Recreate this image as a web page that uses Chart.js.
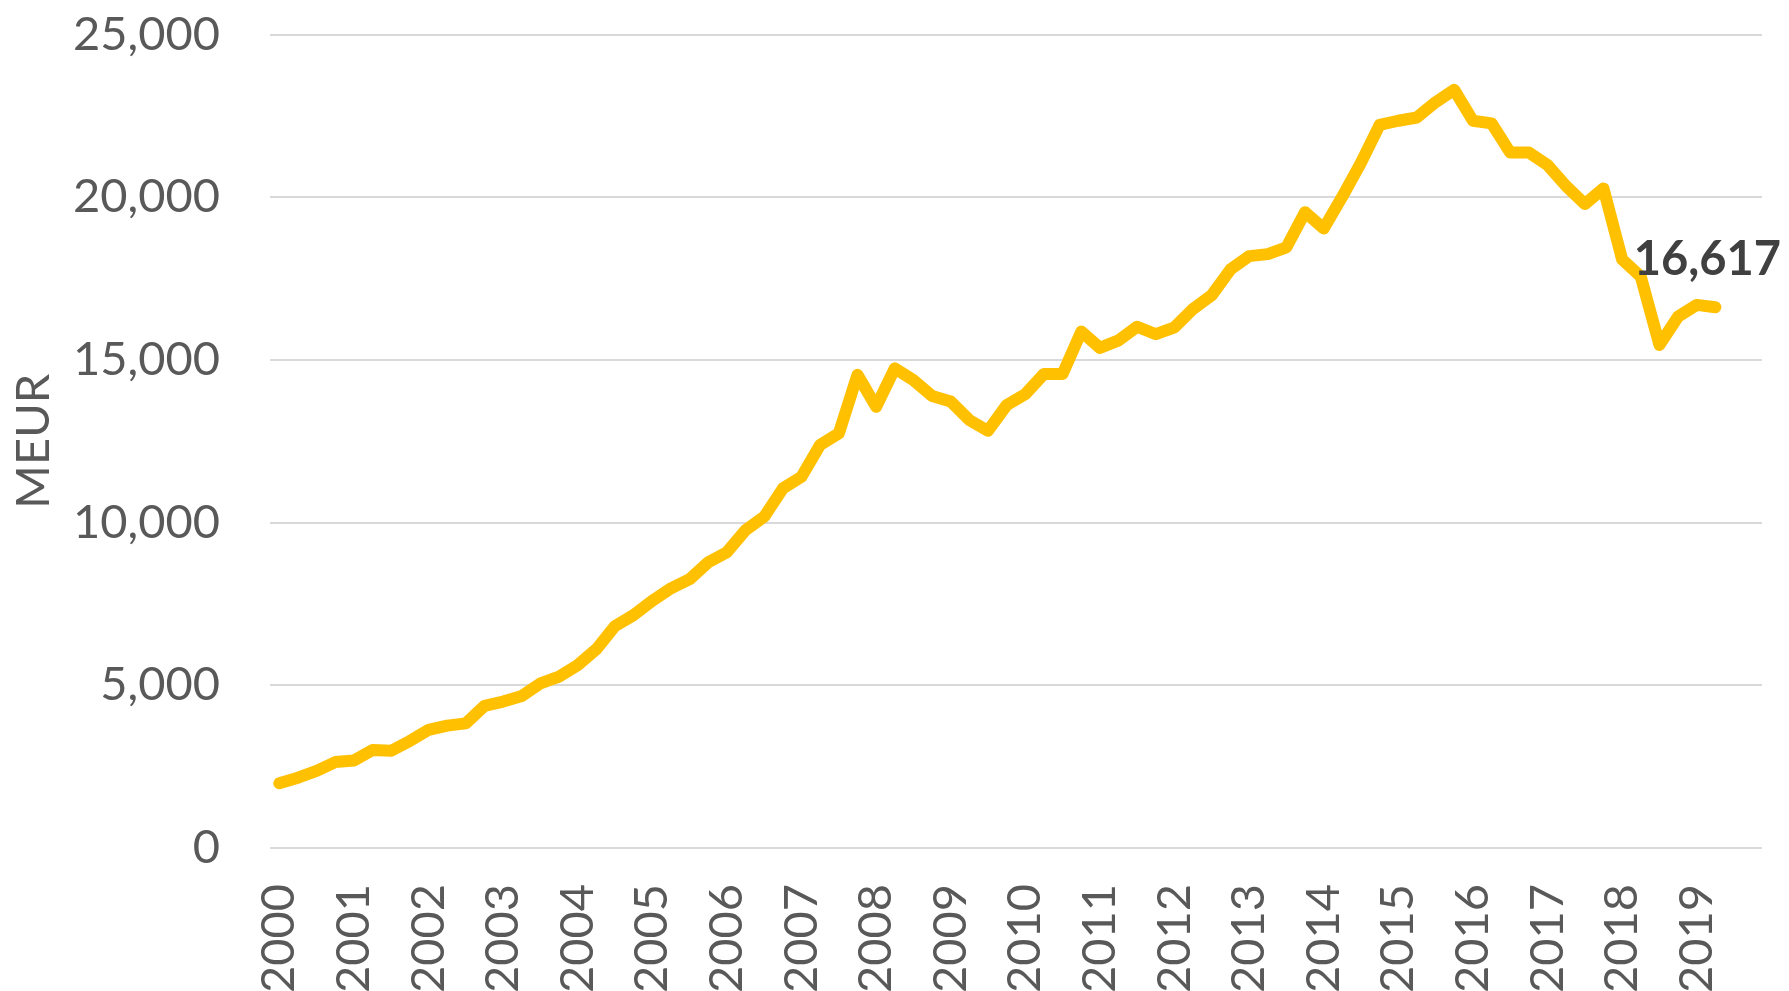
<!DOCTYPE html>
<html>
<head>
<meta charset="utf-8">
<title>MEUR 2000–2019</title>
<script src="https://cdn.jsdelivr.net/npm/chart.js@4/dist/chart.umd.min.js"></script>
<style>
  html, body { margin: 0; padding: 0; background: #ffffff; overflow: hidden; }
  #wrap { width: 1789px; height: 991px; }
</style>
</head>
<body>
<div id="wrap"><canvas id="chart" width="1789" height="991"></canvas></div>
<script>
// Quarterly series, 2000 Q1 – 2019 Q2 (MEUR)
const years = [2000, 2001, 2002, 2003, 2004, 2005, 2006, 2007, 2008, 2009,
               2010, 2011, 2012, 2013, 2014, 2015, 2016, 2017, 2018, 2019];
const quarters = ['Q1', 'Q2', 'Q3', 'Q4'];
const values = [
  1990, 2160, 2370, 2640,      // 2000
  2690, 3010, 2990, 3290,      // 2001
  3630, 3760, 3830, 4370,      // 2002
  4500, 4670, 5060, 5270,      // 2003
  5620, 6110, 6820, 7160,      // 2004
  7600, 7980, 8260, 8780,      // 2005
  9090, 9770, 10180, 11050,    // 2006
  11410, 12390, 12740, 14540,  // 2007
  13560, 14740, 14380, 13890,  // 2008
  13720, 13150, 12820, 13610,  // 2009
  13950, 14570, 14570, 15870,  // 2010
  15370, 15600, 16020, 15790,  // 2011
  16000, 16570, 16990, 17780,  // 2012
  18190, 18250, 18460, 19540,  // 2013
  19040, 20020, 21060, 22220,  // 2014
  22350, 22450, 22920, 23300,  // 2015
  22350, 22270, 21370, 21370,  // 2016
  20990, 20340, 19790, 20270,  // 2017
  18090, 17560, 15460, 16330,  // 2018
  16690, 16617                 // 2019
];
const yTicks = [0, 5000, 10000, 15000, 20000, 25000];

// category axis covers every quarter of every year
const labels = [];
years.forEach(y => quarters.forEach(q => labels.push(y + ' ' + q)));
const series = labels.map((_, i) => (i < values.length ? values[i] : null));

const tickColor = '#595959';
const tickFont = { family: 'Lato', size: 47 };

// value label above the latest point
const lastLabel = {
  id: 'lastLabel',
  afterDatasetsDraw(chart) {
    const meta = chart.getDatasetMeta(0);
    const idx = values.length - 1;
    const pt = meta.data[idx];
    const ctx = chart.ctx;
    ctx.save();
    ctx.font = 'bold 47px Lato';
    ctx.fillStyle = '#404040';
    ctx.textAlign = 'center';
    ctx.textBaseline = 'alphabetic';
    ctx.fillText(values[idx].toLocaleString('en-US'), pt.x - 8, pt.y - 32);
    ctx.restore();
  }
};

new Chart(document.getElementById('chart'), {
  type: 'line',
  data: {
    labels: labels,
    datasets: [{
      data: series,
      borderColor: '#FFC000',
      backgroundColor: '#FFC000',
      borderWidth: 12,
      borderCapStyle: 'round',
      borderJoinStyle: 'round',
      pointRadius: 0,
      pointHoverRadius: 0,
      tension: 0,
      fill: false,
      clip: false
    }]
  },
  options: {
    responsive: false,
    animation: false,
    devicePixelRatio: 1,
    layout: { padding: { top: 34.5, right: 27, bottom: 0, left: 0 } },
    plugins: {
      legend: { display: false },
      tooltip: { enabled: false }
    },
    scales: {
      x: {
        type: 'category',
        offset: true,
        grid: { display: false, drawTicks: false },
        border: { display: false },
        ticks: {
          autoSkip: false,
          minRotation: 90,
          maxRotation: 90,
          padding: 36,
          color: tickColor,
          font: tickFont,
          callback: (v, i) => (i % 4 === 0 ? String(years[i / 4]) : '')
        },
        afterFit: s => {
          s.height = 991 - 848;
          s.paddingLeft = 0;
          s.paddingRight = 0;
        }
      },
      y: {
        min: 0,
        max: 25000,
        afterBuildTicks: s => { s.ticks = yTicks.map(v => ({ value: v })); },
        grid: { color: '#d9d9d9', lineWidth: 2, drawTicks: false },
        border: { display: false },
        ticks: {
          padding: 50,
          color: tickColor,
          font: tickFont,
          callback: v => v.toLocaleString('en-US')
        },
        title: {
          display: true,
          text: 'MEUR',
          color: tickColor,
          font: tickFont,
          padding: { top: 6, bottom: 0 }
        },
        afterFit: s => {
          s.width = 270;
          s.paddingTop = 0;
          s.paddingBottom = 0;
        }
      }
    }
  },
  plugins: [lastLabel]
});
</script>
</body>
</html>
